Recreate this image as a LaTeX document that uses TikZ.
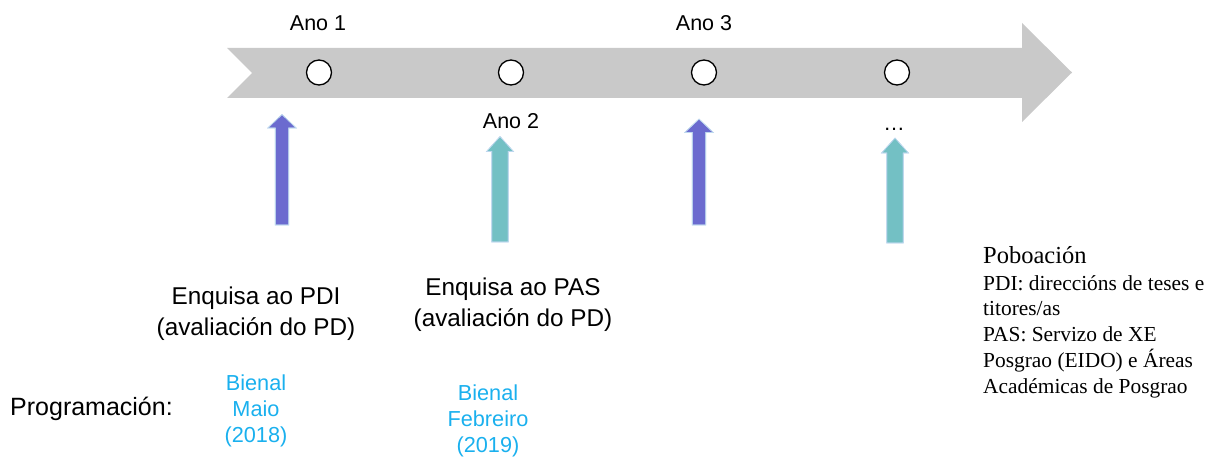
\documentclass[tikz,border=0pt]{standalone}
\usepackage{fontspec}
\setmainfont{Liberation Sans}
\newfontfamily\serifF{Liberation Serif}
\definecolor{band}{HTML}{C9C9C9}
\definecolor{purp}{HTML}{6B6BCF}
\definecolor{teal2}{HTML}{73C0C4}
\definecolor{edgeblue}{HTML}{BDD7EE}
\definecolor{skyblue}{HTML}{1AB0EE}
\tikzset{
  milestone/.style={circle, draw=black, fill=white, line width=1.3pt, minimum size=25pt, inner sep=0pt},
  lbl/.style={inner sep=0pt, anchor=base, font=\fontsize{21.5}{26}\selectfont},
  survey/.style={inner sep=0pt, anchor=base, align=center, font=\fontsize{24.3}{30.5}\selectfont},
  prog/.style={inner sep=0pt, anchor=base, align=center, text=skyblue, font=\fontsize{21.7}{26}\selectfont},
  purpshape/.style={fill=purp, draw=edgeblue, line width=0.6pt},
  tealshape/.style={fill=teal2, draw=edgeblue, line width=0.6pt},
}
\newcommand{\uparr}[7]{% style, x, tip, bottom, shaft, head, headh
  \fill[#1] (#2-#5/2,#4) -- (#2-#5/2,#3+#7) -- (#2-#6/2,#3+#7) -- (#2,#3) -- (#2+#6/2,#3+#7) -- (#2+#5/2,#3+#7) -- (#2+#5/2,#4) -- cycle;
  \draw[#1, fill=none] (#2-#5/2,#4) -- (#2-#5/2,#3+#7) -- (#2-#6/2,#3+#7) -- (#2,#3) -- (#2+#6/2,#3+#7) -- (#2+#5/2,#3+#7) -- (#2+#5/2,#4) -- cycle;
}
\begin{document}
\begin{tikzpicture}[x=1pt,y=-1pt]
\useasboundingbox (0,0) rectangle (1221,457);
% big timeline arrow
\fill[band] (227,48) -- (1022,48) -- (1022,23) -- (1072,72.5) -- (1022,122) -- (1022,98) -- (227,98) -- (252,73) -- cycle;
% milestone circles
\node[milestone] (c1) at (319,72.5) {};
\node[milestone] (c2) at (511,72.5) {};
\node[milestone] (c3) at (704,72.5) {};
\node[milestone] (c4) at (897,72.5) {};
% year labels
\node[lbl] (a1) at (318,31) {Ano 1};
\node[lbl] (a3) at (704,31) {Ano 3};
\node[lbl] (a2) at (511,129) {Ano 2};
\node[lbl] (a4) at (894,131) {\ldots};
% up arrows
\uparr{purpshape}{282}{114.5}{225}{13.5}{28.5}{13.5}
\uparr{tealshape}{500}{136.5}{242}{16.5}{27}{15}
\uparr{purpshape}{699}{119}{225}{13.5}{28.5}{13.5}
\uparr{tealshape}{895}{138}{243}{16.5}{27}{15}
% surveys (base anchor = last line)
\node[survey] (s1) at (256,335) {Enquisa ao PDI\\(avaliación do PD)};
\node[survey] (s2) at (513,326) {Enquisa ao PAS\\(avaliación do PD)};
% programming
\node[inner sep=0pt, anchor=base west, font=\fontsize{25}{30}\selectfont] (pg) at (10,415) {Programación:};
\node[prog] (p1) at (256,442) {Bienal\\Maio\\(2018)};
\node[prog] (p2) at (488,452) {Bienal\\Febreiro\\(2019)};
% population
\node[inner sep=0pt, anchor=base west, font=\serifF\fontsize{24.5}{28}\selectfont] (pob) at (983,263) {Poboación};
\node[inner sep=0pt, anchor=base west, align=left, font=\serifF\fontsize{21.4}{25.75}\selectfont] (pobt) at (983,393) {PDI: direccións de teses e\\titores/as\\PAS: Servizo de XE\\Posgrao (EIDO) e Áreas\\Académicas de Posgrao};
\end{tikzpicture}
\end{document}
